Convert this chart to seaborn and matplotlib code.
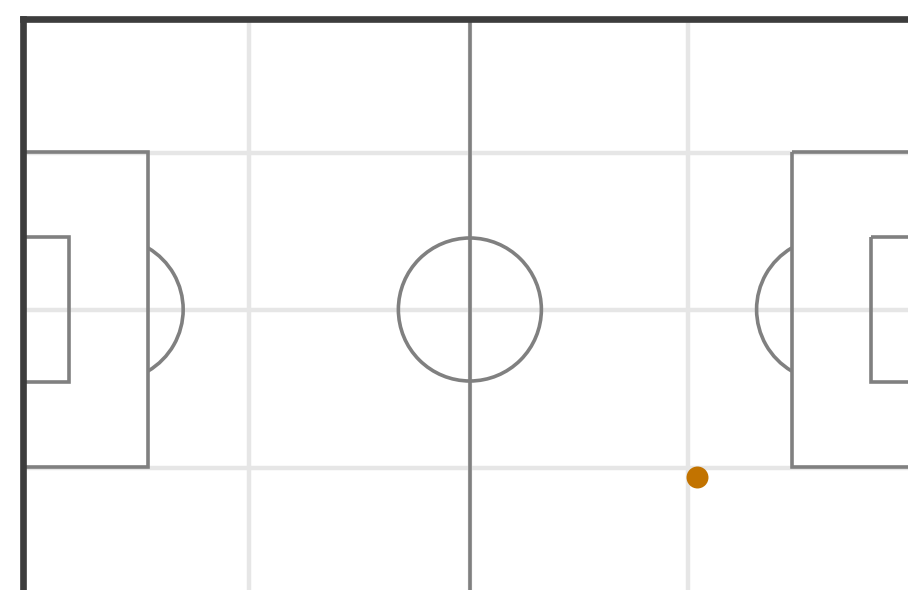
import numpy as np
import pandas as pd
import matplotlib
matplotlib.use("Agg")
import matplotlib.pyplot as plt
from matplotlib.patches import Rectangle, Circle, Arc
import seaborn as sns

# pitch dimensions (units, goal line at x=0, top touchline at y=0)
pitch_length = 125.0
pitch_width = 81.4
box_depth = 17.5
box_width = 44.0
six_depth = 6.4
six_width = 20.3
spot_dist = 12.4
circle_r = 10.0

# grid ticks
x_ticks = [31.65, 62.5, 93.05]
y_ticks = [18.85, 40.7, 62.9]

# event
event_x = [94.3]
event_y = [64.1]
event_type = ["shot"]

df = pd.DataFrame({"x": event_x, "y": event_y, "type": event_type})

sns.set_style("whitegrid", {"grid.color": "#e6e6e6", "axes.edgecolor": "#3d3d3d"})

fig = plt.figure(figsize=(9.08, 5.90), dpi=100)
ax = fig.add_axes([23 / 908, 1 - 600.5 / 590, 893.75 / 908, 582 / 590])
ax.set_xlim(0, pitch_length)
ax.set_ylim(pitch_width, 0)

ax.set_xticks(x_ticks)
ax.set_yticks(y_ticks)
ax.grid(True, color="#e6e6e6", linewidth=3.2)
ax.set_axisbelow(True)
ax.tick_params(length=0, labelbottom=False, labelleft=False)
for side in ["left", "top", "right", "bottom"]:
    ax.spines[side].set_linewidth(4.8)
    ax.spines[side].set_color("#3d3d3d")
    ax.spines[side].set_zorder(5)

lc = "#808080"
lw = 2.6
mid_x = pitch_length / 2
mid_y = pitch_width / 2

# halfway line and centre circle
ax.plot([mid_x, mid_x], [0, pitch_width], color=lc, lw=lw, zorder=2)
ax.add_patch(Circle((mid_x, mid_y), circle_r, fill=False, ec=lc, lw=lw, zorder=2))

# boxes and arcs
half_ang = np.degrees(np.arccos((box_depth - spot_dist) / circle_r))
for goal_x, sgn in [(0, 1), (pitch_length, -1)]:
    bx = goal_x if sgn == 1 else goal_x - box_depth
    sx = goal_x if sgn == 1 else goal_x - six_depth
    ax.add_patch(Rectangle((bx, mid_y - box_width / 2), box_depth, box_width,
                           fill=False, ec=lc, lw=lw, zorder=2))
    ax.add_patch(Rectangle((sx, mid_y - six_width / 2), six_depth, six_width,
                           fill=False, ec=lc, lw=lw, zorder=2))
    spot = goal_x + sgn * spot_dist
    if sgn == 1:
        ax.add_patch(Arc((spot, mid_y), 2 * circle_r, 2 * circle_r, theta1=-half_ang,
                         theta2=half_ang, ec=lc, lw=lw, zorder=2))
    else:
        ax.add_patch(Arc((spot, mid_y), 2 * circle_r, 2 * circle_r, theta1=180 - half_ang,
                         theta2=180 + half_ang, ec=lc, lw=lw, zorder=2))

sns.scatterplot(data=df, x="x", y="y", ax=ax, color="#c27300", s=250,
                linewidth=0, legend=False, zorder=4)
ax.set_xlabel("")
ax.set_ylabel("")

fig.savefig("out.png", dpi=100)
